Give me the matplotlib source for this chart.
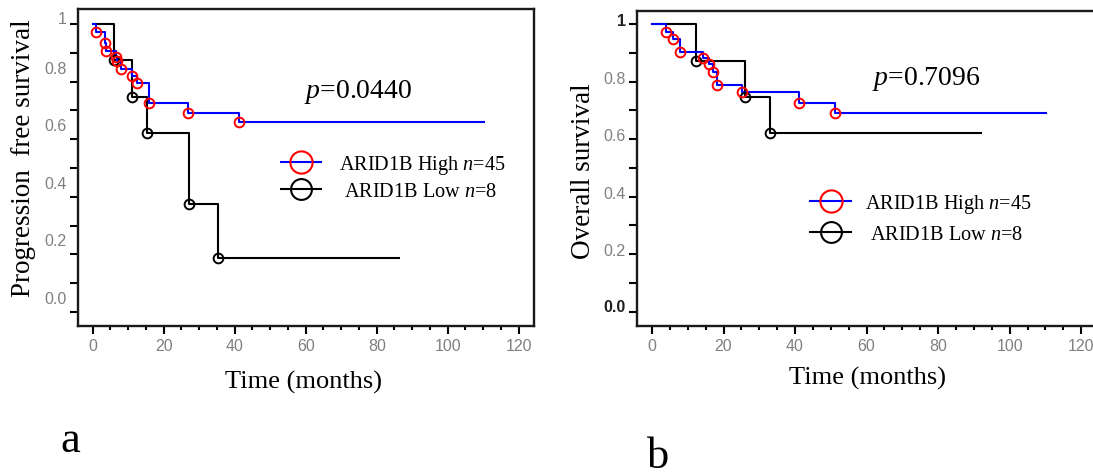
import matplotlib
matplotlib.use("Agg")
import matplotlib.pyplot as plt
import numpy as np
from matplotlib.lines import Line2D
from matplotlib.transforms import ScaledTranslation

plt.rcParams['mathtext.fontset'] = 'custom'
plt.rcParams['mathtext.rm'] = 'Liberation Serif'
plt.rcParams['mathtext.it'] = 'Liberation Serif:italic'

# ---------------- data ----------------
# Panel a: progression free survival
pfs_hi_t = [0, 0.9, 3.4, 3.9, 6.5, 6.9, 8.0, 11.2, 12.5, 16.0, 27.0, 41.3]
pfs_hi_s = [1.0, 0.973, 0.933, 0.907, 0.887, 0.873, 0.844, 0.821, 0.795, 0.725, 0.691, 0.659]
pfs_hi_end = 110.2
pfs_lo_t = [0, 6.1, 11.0, 15.4, 27.2, 35.3]
pfs_lo_s = [1.0, 0.875, 0.745, 0.622, 0.373, 0.188]
pfs_lo_end = 86.3
pfs_p = "0.0440"

# Panel b: overall survival
os_hi_t = [0, 4.0, 6.0, 7.9, 14.2, 15.9, 17.0, 18.2, 25.2, 41.1, 51.2]
os_hi_s = [1.0, 0.971, 0.948, 0.904, 0.882, 0.862, 0.833, 0.788, 0.762, 0.724, 0.692]
os_hi_end = 110.2
os_lo_t = [0, 12.3, 26.1, 33.0]
os_lo_s = [1.0, 0.872, 0.745, 0.622]
os_lo_end = 92.1
os_p = "0.7096"

group_labels = ["ARID1B High $\\mathit{n}$=45", " ARID1B Low $\\mathit{n}$=8"]
x_major = [0, 20, 40, 60, 80, 100, 120]
y_ticks = [0.0, 0.1, 0.2, 0.3, 0.4, 0.5, 0.6, 0.7, 0.8, 0.9, 1.0]
y_ticklabels = ["0.0", "", "0.2", "", "0.4", "", "0.6", "", "0.8", "", "1"]

SERIF = "Liberation Serif"
SANS = "Liberation Sans"

W, H = 1093, 477
fig = plt.figure(figsize=(W / 100, H / 100), dpi=100)

def px_axes(l, t, r, b):
    return fig.add_axes([l / W, (H - b) / H, (r - l) / W, (b - t) / H])

ax_a = px_axes(77.7, 10, 534, 326.7)
ax_b = px_axes(636.7, 11.7, 1117, 326.7)

def km(ax, t, s, end, color):
    xs = list(t) + [end]
    ys = list(s) + [s[-1]]
    ax.step(xs, ys, where='post', color=color, lw=1.5, zorder=3)

def marks(ax, t, s, color):
    ax.plot(t[1:], s[1:], ls='none', marker='o', ms=7, mfc='none',
            mec=color, mew=1.4, zorder=5)

def style(ax, xlim, ylim, offsets, dark_idx):
    ax.set_xlim(*xlim)
    ax.set_ylim(*ylim)
    for sp in ax.spines.values():
        sp.set_linewidth(1.7)
        sp.set_color('#1a1a1a')
    ax.set_xticks(x_major)
    ax.set_xticks(np.arange(0, 121, 5), minor=True)
    ax.set_xticklabels([str(v) for v in x_major], fontfamily=SANS,
                       fontsize=11.5, color='#808080')
    ax.set_yticks(y_ticks)
    ax.set_yticklabels(y_ticklabels, fontfamily=SANS, fontsize=11.5,
                       color='#808080')
    ax.tick_params(axis='x', which='major', direction='out', length=6,
                   width=1.5, pad=2.5)
    ax.tick_params(axis='x', which='minor', direction='out', length=3,
                   width=1.5)
    ax.tick_params(axis='y', which='major', direction='out', length=5.5,
                   width=1.5, pad=2.5)
    for lbl, dy in zip(ax.get_yticklabels(), offsets):
        lbl.set_transform(lbl.get_transform() +
                          ScaledTranslation(0, dy / 100, fig.dpi_scale_trans))
    for i in dark_idx:
        lbl = ax.get_yticklabels()[i]
        lbl.set_color('#222222')
        lbl.set_fontweight('bold')

# ---------- panel a ----------
km(ax_a, pfs_lo_t, pfs_lo_s, pfs_lo_end, 'black')
km(ax_a, pfs_hi_t, pfs_hi_s, pfs_hi_end, '#0000ff')
marks(ax_a, pfs_lo_t, pfs_lo_s, 'black')
marks(ax_a, pfs_hi_t, pfs_hi_s, '#ff0000')
style(ax_a, (-4.2, 124.3), (-0.048, 1.052),
      [15, 0, 15, 0, 15, 0, 15, 0, 15, 0, 7], [])

# ---------- panel b ----------
km(ax_b, os_lo_t, os_lo_s, os_lo_end, 'black')
km(ax_b, os_hi_t, os_hi_s, os_hi_end, '#0000ff')
marks(ax_b, os_lo_t, os_lo_s, 'black')
marks(ax_b, os_hi_t, os_hi_s, '#ff0000')
style(ax_b, (-4.27, 130), (-0.048, 1.046),
      [7, 0, 5, 0, 5, 0, 5, 0, 5, 0, 5], [0, 10])

# labels
ax_a.set_ylabel("Progression  free survival", fontfamily=SERIF, fontsize=19.5,
                va='center')
ax_a.yaxis.set_label_coords(-0.119, 0.5327)
ax_b.set_ylabel("Overall survival", fontfamily=SERIF, fontsize=19.5,
                va='center')
ax_b.yaxis.set_label_coords(-0.110, 0.4935)
ax_a.set_xlabel("Time (months)", fontfamily=SERIF, fontsize=19, va='center')
ax_a.xaxis.set_label_coords(0.4948, -0.1775)
ax_b.set_xlabel("Time (months)", fontfamily=SERIF, fontsize=19, va='center')
ax_b.xaxis.set_label_coords(0.4795, -0.164)

ax_a.text(0.495, 0.742, "$\\mathit{p}$=" + pfs_p, transform=ax_a.transAxes,
          fontfamily=SERIF, fontsize=20, ha='left', va='center')
ax_b.text(0.4905, 0.7866, "$\\mathit{p}$=" + os_p, transform=ax_b.transAxes,
          fontfamily=SERIF, fontsize=20, ha='left', va='center')

def legend(ax, anchor, spacing, pad):
    handles = [Line2D([], [], color='#0000ff', lw=1.5, marker='o', ms=16,
                      mfc='none', mec='#ff0000', mew=1.5),
               Line2D([], [], color='black', lw=1.5, marker='o', ms=15,
                      mfc='none', mec='black', mew=1.5)]
    ax.legend(handles, group_labels, loc='center left', bbox_to_anchor=anchor,
              frameon=False, borderpad=0, borderaxespad=0, handlelength=2.0,
              handletextpad=pad, labelspacing=spacing, numpoints=1,
              prop={'family': SERIF, 'size': 14.6})

legend(ax_a, (0.445, 0.4695), 0.25, 0.85)
legend(ax_b, (0.3614, 0.3417), 0.5, 0.7)

fig.text(70 / W, (H - 452) / H, "a", fontfamily=SERIF, fontsize=32,
         ha='center', va='baseline')
fig.text(658 / W, (H - 468) / H, "b", fontfamily=SERIF, fontsize=32,
         ha='center', va='baseline')

fig.savefig("out.png", dpi=100)
